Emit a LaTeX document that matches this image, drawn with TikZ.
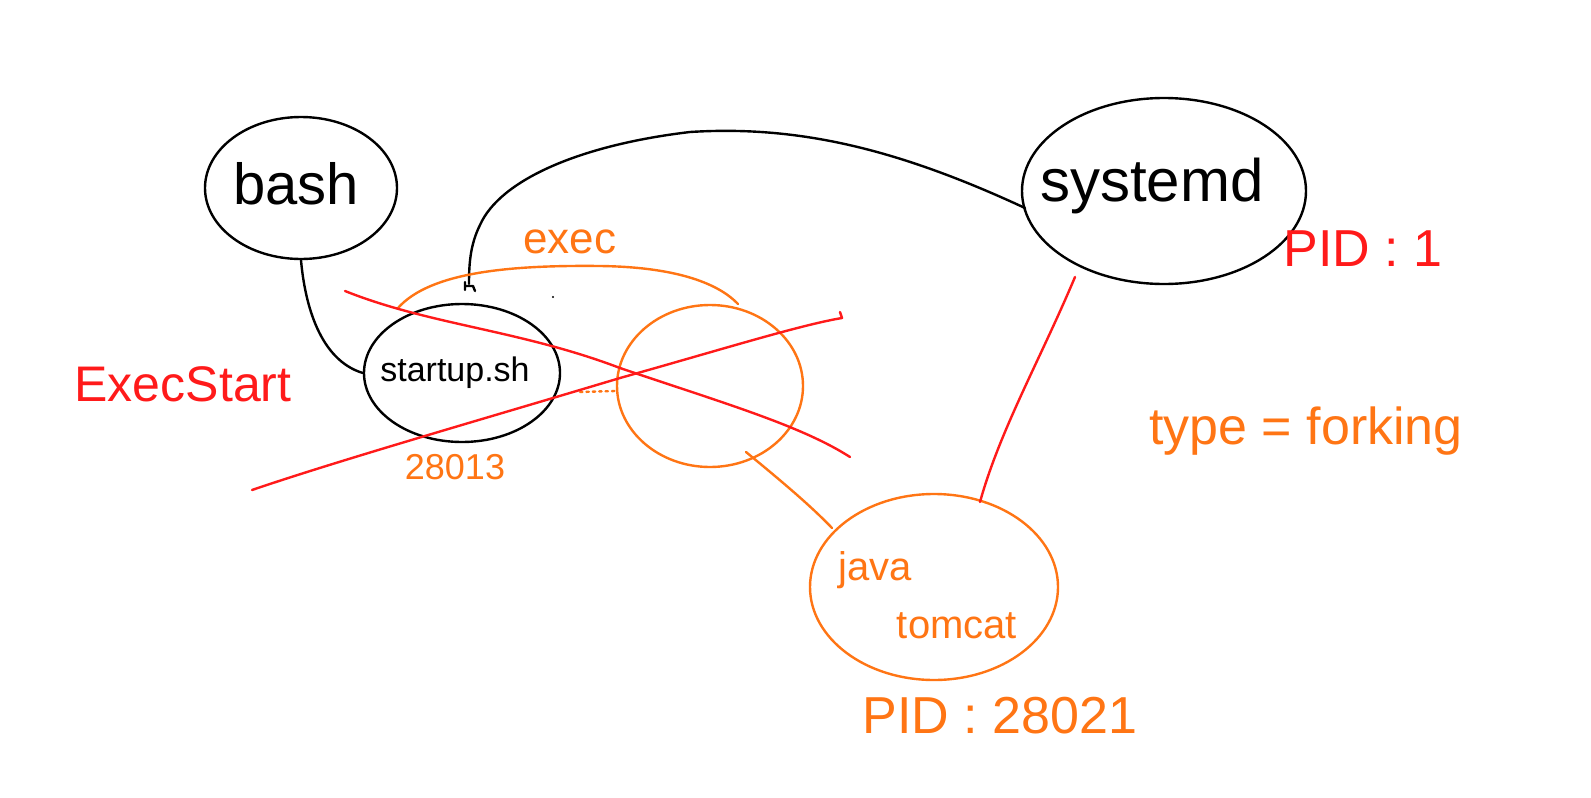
\documentclass[tikz,border=0pt]{standalone}
\usepackage{fontspec}
\setmainfont{Liberation Sans}
\usetikzlibrary{shapes.geometric}
\definecolor{hred}{HTML}{FF1A1A}
\definecolor{horange}{HTML}{FF7514}
\tikzset{
  pen/.style={line width=1.2pt, line cap=round, line join=round},
  blob/.style={pen, draw, ellipse, inner sep=0pt},
  hand/.style={font=\fontsize{#1}{#1}\selectfont, inner sep=0pt},
}
\begin{document}
\begin{tikzpicture}[x=0.5pt,y=-0.5pt]
\useasboundingbox[fill=white] (0,0) rectangle (1591,798);
% processes (sizes in pt = px/2)
\node[blob, minimum width=96pt, minimum height=71pt] (bash) at (301,188) {};
\node[hand=29] (bashT) at (296,184) {bash};
\node[blob, minimum width=142pt, minimum height=93pt] (sys) at (1164,191) {};
\node[hand=30] (sysT) at (1152,186) {systemd};
\node[blob, minimum width=98pt, minimum height=69pt] (start) at (462,373) {};
\node[hand=17] (startT) at (455,373) {startup.sh};
\node[blob, draw=horange, minimum width=93pt, minimum height=81pt] (cross) at (710,386) {};
\node[blob, draw=horange, minimum width=124pt, minimum height=93pt] (java) at (934,587) {};
\node[hand=20, text=horange] (javaT) at (875,570) {java};
\node[hand=20, text=horange] (tomT) at (957,626) {tomcat};
% labels
\node[hand=26, text=hred] (pid1) at (1363,249) {PID : 1};
\node[hand=25, text=hred] (execstart) at (183,384) {ExecStart};
\node[hand=22, text=horange] (execT) at (570,242) {exec};
\node[hand=18, text=horange] (pidA) at (455,467) {28013};
\node[hand=26, text=horange] (pidB) at (1000,716) {PID : 28021};
\node[hand=26, text=horange] (forking) at (1306,431) {type = forking};
% connectors
\coordinate (sysEnd) at (1025,208);
\coordinate (hookEnd) at (469,284);
\draw[pen] (sysEnd) .. controls (900,150) and (800,125) .. (690,132)
  .. controls (580,145) and (500,180) .. (480,225)
  .. controls (470,245) and (469,265) .. (hookEnd);
\draw[pen] (hookEnd) ++(-4,6) -- ++(0,-8) ++(0,4) -- ++(8,0) -- ++(2,5);
\draw[pen] (bash.south) .. controls (305,305) and (320,360) .. (start.west);
\coordinate (execA) at (398,308);
\coordinate (execB) at (738,304);
\draw[pen, horange] (execA) .. controls (430,272) and (510,265) .. (600,266)
  .. controls (680,267) and (720,285) .. (execB);
\coordinate (sysBot) at (1075,277);
\coordinate (javaTop) at (980,502);
\draw[pen, hred] (sysBot) .. controls (1040,360) and (1000,430) .. (javaTop);
\coordinate (crossBot) at (746,452);
\coordinate (javaTL) at (832,528);
\draw[pen, horange] (crossBot) .. controls (780,480) and (810,505) .. (javaTL);
\draw[pen, horange, dotted, line width=1.2pt] (580,392) -- (615,391);
% red cross
\draw[pen, hred] (345,291) .. controls (430,325) and (520,330) .. (620,368)
  .. controls (720,402) and (800,425) .. (850,457);
\draw[pen, hred] (252,490) .. controls (340,460) and (480,420) .. (620,378)
  .. controls (720,350) and (800,325) .. (842,318) -- (840,312);
% small dot
\fill (553,297) circle (1.2);
\end{tikzpicture}
\end{document}
